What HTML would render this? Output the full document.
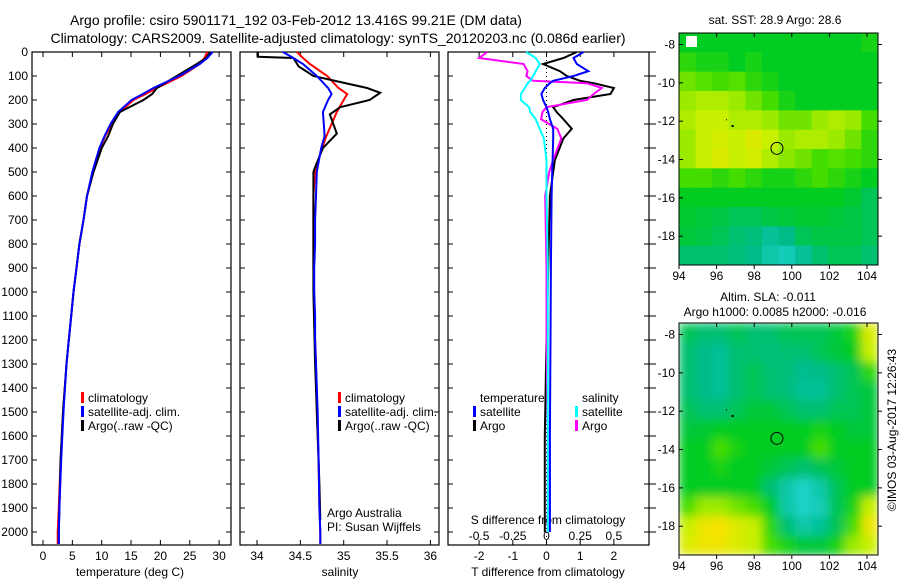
<!DOCTYPE html>
<html><head><meta charset="utf-8"><style>
body{margin:0;background:#fff;}
svg{display:block;font-family:"Liberation Sans",sans-serif;}
text{fill:#000;}
</style></head><body>
<svg id="c" width="900" height="580">
<defs>
<filter id="blur" x="0" y="0" width="1" height="1"><feGaussianBlur stdDeviation="5" edgeMode="duplicate"/></filter>
<clipPath id="clip2"><rect x="679" y="323" width="199" height="232"/></clipPath>
</defs>
<text x="296" y="25" font-size="14" text-anchor="middle">Argo profile: csiro 5901171_192 03-Feb-2012 13.416S 99.21E (DM data)</text>
<text x="338" y="43" font-size="14" text-anchor="middle">Climatology: CARS2009. Satellite-adjusted climatology: synTS_20120203.nc (0.086d earlier)</text>
<text x="775" y="24" font-size="12" text-anchor="middle">sat. SST: 28.9 Argo: 28.6</text>
<text x="768" y="301" font-size="12" text-anchor="middle">Altim. SLA: -0.011</text>
<text x="775" y="316" font-size="12" text-anchor="middle">Argo h1000: 0.0085 h2000: -0.016</text>
<text transform="translate(896,430) rotate(-90)" font-size="12" text-anchor="middle">©IMOS 03-Aug-2017 12:26:43</text>
</svg>
<script>
// ---- data ----
const depths = [0,25,50,100,150,175,200,250,300,350,400,500,600,700,800,900,1000,1100,1200,1300,1500,1700,1900,2000,2050];
const tempClim = [28.0,27.5,26.7,23.6,19.4,17.5,15.4,13.1,11.7,10.6,9.7,8.5,7.5,6.9,6.2,5.7,5.2,4.8,4.4,4.0,3.4,3.0,2.7,2.5,2.5];
const tempSat  = [28.9,28.0,26.7,23.2,18.8,17.0,15.1,12.8,11.5,10.5,9.6,8.4,7.5,6.9,6.2,5.7,5.2,4.8,4.4,4.0,3.5,3.1,2.8,2.7,2.7];
const tempArgo = [28.5,27.8,26.2,22.8,19.4,18.6,17.1,13.1,11.9,11.1,10.0,8.6,7.5,6.9,6.2,5.7,5.2,4.8,4.4,4.0,3.4,3.0,2.8,2.7,2.7];
const salClim  = [34.46,34.53,34.61,34.81,34.94,35.04,35.00,34.92,34.86,34.80,34.75,34.67,34.65,34.65,34.65,34.65,34.66,34.66,34.67,34.68,34.69,34.71,34.72,34.73,34.73];
const salSat   = [34.30,34.42,34.53,34.69,34.82,34.86,34.82,34.76,34.77,34.78,34.74,34.69,34.68,34.67,34.67,34.66,34.66,34.67,34.67,34.68,34.70,34.71,34.72,34.73,34.73];
const argoDepths = [0,20,25,60,100,125,150,170,200,230,260,300,340,400,480,500,700,1000,1300,1600,1800,1950];
const salArgo  = [34.01,34.01,34.42,34.48,34.65,34.96,35.27,35.42,35.30,34.96,34.84,34.88,34.92,34.76,34.67,34.65,34.65,34.65,34.67,34.70,34.72,34.73];
const dDepths = [0,25,50,80,100,120,130,150,175,200,230,250,280,320,360,450,500,600,900,1200,1600,2000];
const tDiffSat  = [1.1,0.8,0.9,1.24,0.8,0.2,0.1,-0.05,-0.15,-0.1,0,0.05,0.1,0.2,0.2,0.18,0.17,0.15,0.13,0.12,0.1,0.1];
const tDiffArgo = [0.9,0.5,-0.1,0.4,0.6,1.0,1.4,2.0,1.9,0.8,0.2,0.3,0.5,0.75,0.5,0.25,0.2,0.1,0.05,0.0,-0.05,-0.05];
const sDiffSat  = [-0.15,-0.08,-0.05,-0.08,-0.1,-0.12,-0.14,-0.16,-0.19,-0.19,-0.13,-0.12,-0.08,-0.05,-0.02,0,0,0,0.01,0.01,0.01,0.01];
const sDiffArgo = [-0.44,-0.5,-0.17,-0.14,-0.15,-0.1,0.3,0.41,0.35,0.3,0.0,-0.03,-0.04,0.08,0.11,0.05,0.02,-0.01,0,0,0.01,0.01];
const depthTicks = [0,100,200,300,400,500,600,700,800,900,1000,1100,1200,1300,1400,1500,1600,1700,1800,1900,2000];
const tempTicks = [0,5,10,15,20,25,30];
const salTicks = [34,34.5,35,35.5,36];
const tDiffTicks = [-2,-1,0,1,2];
const sDiffTicks = [-0.5,-0.25,0,0.25,0.5];
const lonTicks = [94,96,98,100,102,104];
const latTicks = [-8,-10,-12,-14,-16,-18];
const sstGrid = [
[0.45,0.45,0.45,0.45,0.45,0.45,0.45,0.45,0.45,0.45,0.45,0.5],
[0.55,0.5,0.5,0.45,0.5,0.45,0.45,0.45,0.45,0.45,0.45,0.45],
[0.65,0.62,0.6,0.62,0.55,0.5,0.45,0.45,0.45,0.45,0.45,0.45],
[0.7,0.72,0.72,0.7,0.65,0.6,0.5,0.45,0.45,0.45,0.45,0.45],
[0.72,0.75,0.75,0.72,0.72,0.7,0.65,0.65,0.7,0.72,0.7,0.6],
[0.7,0.75,0.78,0.75,0.8,0.75,0.7,0.72,0.72,0.7,0.65,0.55],
[0.7,0.75,0.8,0.75,0.78,0.72,0.68,0.65,0.6,0.62,0.6,0.55],
[0.6,0.6,0.55,0.6,0.55,0.5,0.5,0.55,0.6,0.55,0.5,0.45],
[0.45,0.45,0.45,0.45,0.45,0.45,0.45,0.45,0.45,0.45,0.42,0.35],
[0.42,0.4,0.38,0.35,0.35,0.38,0.4,0.42,0.42,0.4,0.38,0.35],
[0.4,0.38,0.35,0.3,0.28,0.2,0.25,0.35,0.38,0.38,0.38,0.35],
[0.3,0.3,0.3,0.28,0.25,0.15,0.1,0.2,0.3,0.35,0.35,0.3]];
const slaGrid = [
[0.35,0.3,0.3,0.35,0.3,0.3,0.35,0.35,0.35,0.4,0.5,0.8],
[0.3,0.25,0.2,0.3,0.3,0.28,0.3,0.3,0.35,0.4,0.45,0.75],
[0.3,0.25,0.2,0.3,0.35,0.3,0.28,0.22,0.25,0.3,0.35,0.55],
[0.3,0.25,0.2,0.3,0.35,0.3,0.28,0.2,0.2,0.3,0.35,0.4],
[0.35,0.3,0.3,0.35,0.4,0.4,0.35,0.3,0.3,0.35,0.35,0.4],
[0.4,0.42,0.45,0.45,0.45,0.45,0.45,0.45,0.5,0.45,0.4,0.4],
[0.45,0.45,0.6,0.5,0.45,0.45,0.45,0.45,0.6,0.45,0.45,0.45],
[0.45,0.45,0.5,0.45,0.45,0.4,0.35,0.3,0.35,0.4,0.45,0.45],
[0.45,0.45,0.45,0.45,0.45,0.3,0.15,0.05,0.15,0.35,0.45,0.45],
[0.6,0.7,0.7,0.65,0.6,0.45,0.15,0.05,0.1,0.35,0.5,0.75],
[0.75,0.85,0.88,0.8,0.75,0.55,0.3,0.15,0.2,0.35,0.6,0.85],
[0.8,0.85,0.85,0.8,0.75,0.6,0.5,0.4,0.4,0.5,0.7,0.75]];

// ---- drawing ----
const svg = document.getElementById('c');
const NS = 'http://www.w3.org/2000/svg';
function mk(tag, attrs, parent){const e=document.createElementNS(NS,tag);for(const k in attrs)e.setAttribute(k,attrs[k]);(parent||svg).appendChild(e);return e;}
const Y0=52, Y1=545;
const yD = d => Y0 + d*0.24;
const xT = v => 43 + v*5.87;
const xS = v => 257 + (v-34)*86.7;
const xTd = v => 546.5 + v*33.7;
const xSd = v => 546.5 + v*134.8;

const panels = [[32,231,'temperature-panel'],[240,439,'salinity-panel'],[448,649,'difference-panel']];
panels.forEach(p=>{
  const r = mk('rect',{x:p[0],y:Y0,width:p[1]-p[0],height:Y1-Y0,fill:'none',stroke:'#000','stroke-width':1.2});
  
  
  depthTicks.forEach(d=>{
    mk('line',{x1:p[0],x2:p[0]+5,y1:yD(d),y2:yD(d),stroke:'#000'});
    mk('line',{x1:p[1],x2:p[1]-5,y1:yD(d),y2:yD(d),stroke:'#000'});
  });
});
depthTicks.forEach(d=>{
  const t = mk('text',{x:28,y:yD(d)+4,'font-size':12,'text-anchor':'end'});
  t.textContent = d;
  
  
  mk('line',{x1:649,x2:656,y1:yD(d),y2:yD(d),stroke:'#000'});
});
function xAxis(ticks, fx, y, labelsFmt, name, top){
  ticks.forEach(v=>{
    const x=fx(v);
    mk('line',{x1:x,x2:x,y1:Y1,y2:Y1-5,stroke:'#000'});
    if(top) mk('line',{x1:x,x2:x,y1:Y0,y2:Y0+5,stroke:'#000'});
    const t=mk('text',{x:x,y:y,'font-size':12,'text-anchor':'middle'});
    t.textContent = labelsFmt(v);
    
    
  });
}
xAxis(tempTicks,xT,560,v=>v,'temperature-tick-label',true);
xAxis(salTicks,xS,560,v=>v,'salinity-tick-label',true);
xAxis(tDiffTicks,xTd,560,v=>v,'t-diff-tick-label',false);
sDiffTicks.forEach(v=>{
  const x=xSd(v);
  mk('line',{x1:x,x2:x,y1:Y0,y2:Y0+5,stroke:'#000'});
  const t=mk('text',{x:x,y:540,'font-size':12,'text-anchor':'middle'});
  t.textContent=v;
  
  
});
[['temperature (deg C)',130,576,'temperature-axis-title'],['salinity',340,576,'salinity-axis-title'],['T difference from climatology',548,576,'t-diff-axis-title'],['S difference from climatology',548,524,'s-diff-axis-title'],['Argo Australia',327,517,'credit-line-1'],['PI: Susan Wijffels',327,531,'credit-line-2']].forEach(a=>{
  const t=mk('text',{x:a[1],y:a[2],'font-size':12,'text-anchor':a[3].startsWith('credit')?'start':'middle'});
  t.textContent=a[0];
  
  
});
mk('line',{x1:xTd(0),x2:xTd(0),y1:Y0,y2:Y1,stroke:'#000','stroke-dasharray':'1,3'});

function profile(vals, ds, fx, color, name, w){
  const pts = vals.map((v,i)=>fx(v).toFixed(1)+','+yD(ds[i]).toFixed(1)).join(' ');
  const pl = mk('polyline',{points:pts,fill:'none',stroke:color,'stroke-width':w||2});
  
  
}
profile(tempClim,depths,xT,'#ff0000','temp-climatology-line');
profile(tempArgo,depths,xT,'#000000','temp-argo-line');
profile(tempSat,depths,xT,'#0000ff','temp-satellite-line');
profile(salClim,depths,xS,'#ff0000','sal-climatology-line');
profile(salArgo,argoDepths,xS,'#000000','sal-argo-line');
profile(salSat,depths,xS,'#0000ff','sal-satellite-line');
profile(tDiffArgo,dDepths,xTd,'#000000','t-diff-argo-line');
profile(sDiffArgo,dDepths,xSd,'#ff00ff','s-diff-argo-line');
profile(tDiffSat,dDepths,xTd,'#0000ff','t-diff-satellite-line');
profile(sDiffSat,dDepths,xSd,'#00ffff','s-diff-satellite-line');

function legend(x, y, items, prefix){
  items.forEach((it,i)=>{
    const yy=y+i*14;
    if(it[1]) mk('rect',{x:x,y:yy-10,width:3,height:11,fill:it[1]});
    const t=mk('text',{x:x+7,y:yy,'font-size':12});
    t.textContent=it[0];
    
    
  });
}
legend(81,402,[['climatology','#f00'],['satellite-adj. clim.','#00f'],['Argo(..raw -QC)','#000']],'temp');
legend(338,402,[['climatology','#f00'],['satellite-adj. clim.','#00f'],['Argo(..raw -QC)','#000']],'sal');
legend(473,402,[['temperature',null],['satellite','#00f'],['Argo','#000']],'t-diff');
legend(575,402,[['salinity',null],['satellite','#0ff'],['Argo','#f0f']],'s-diff');

// ---- maps ----
const stops=[[0,[32,216,216]],[0.25,[0,187,136]],[0.45,[0,204,34]],[0.6,[68,221,0]],[0.75,[200,240,0]],[0.9,[255,224,0]],[1,[255,176,0]]];
function cmap(v){
  for(let i=1;i<stops.length;i++){ if(v<=stops[i][0]){const a=stops[i-1],b=stops[i],f=(v-a[0])/(b[0]-a[0]);return 'rgb('+a[1].map((c,k)=>Math.round(c+(b[1][k]-c)*f)).join(',')+')';}}
  return 'rgb(255,176,0)';
}
function map(grid, top, name, smooth){
  const L=679,R=878,B=top+232;
  const xL = lon => L + (lon-94)*18.8;
  const yL = lat => top + (-7.4-lat)*19.17;
  const outer = mk('g',{});
  if(smooth) outer.setAttribute('clip-path','url(#clip2)');
  const g = mk('g',{},outer);
  if(smooth) g.setAttribute('filter','url(#blur)');
  
  
  const nr=grid.length,nc=grid[0].length,cw=(R-L)/nc,ch=(B-top)/nr;
  grid.forEach((row,r)=>row.forEach((v,c)=>{
    mk('rect',{x:L+c*cw,y:top+r*ch,width:cw+0.5,height:ch+0.5,fill:cmap(v)},g);
  }));
  mk('rect',{x:L,y:top,width:R-L,height:B-top,fill:'none',stroke:'#000'});
  latTicks.forEach(la=>{
    const y=yL(la);
    mk('line',{x1:L,x2:L+4,y1:y,y2:y,stroke:'#000'});
    mk('line',{x1:R,x2:R+4,y1:y,y2:y,stroke:'#000'});
    const t=mk('text',{x:L-4,y:y+4,'font-size':12,'text-anchor':'end'});
    t.textContent=la;
    
    
  });
  lonTicks.forEach(lo=>{
    const x=xL(lo);
    mk('line',{x1:x,x2:x,y1:B,y2:B+4,stroke:'#000'});
    mk('line',{x1:x,x2:x,y1:top,y2:top+4,stroke:'#000'});
    const t=mk('text',{x:x,y:B+15,'font-size':12,'text-anchor':'middle'});
    t.textContent=lo;
    
    
  });
  const c=mk('circle',{cx:xL(99.21),cy:yL(-13.416),r:6,fill:'none',stroke:'#000'});
  
  
  mk('rect',{x:xL(96.8),y:yL(-12.2),width:2,height:2,fill:'#000'});
  mk('rect',{x:xL(96.5),y:yL(-11.9),width:1,height:1,fill:'#000'});
}
map(sstGrid,33,'sst-map',false);
map(slaGrid,323,'sla-map',true);
mk('rect',{x:686,y:36,width:11,height:11,fill:'#fff'});
</script>
</body></html>
